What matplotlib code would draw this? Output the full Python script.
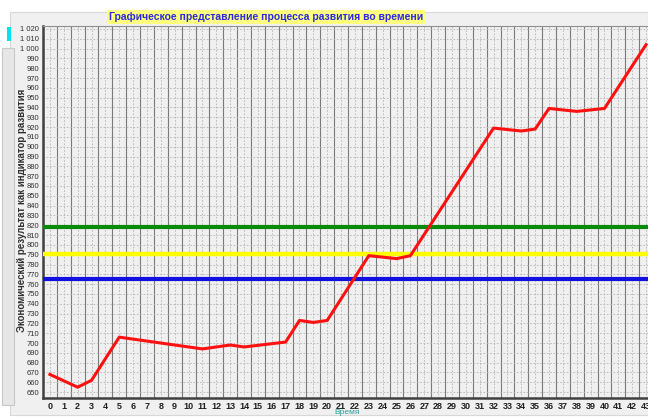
import matplotlib
matplotlib.use("Agg")
import matplotlib.pyplot as plt
import matplotlib.ticker as mtick
from matplotlib.patches import Rectangle

# time steps and the development indicator (red line)
time_steps = [0, 2, 3, 5, 11, 13, 14, 17, 18, 19, 20, 23, 25, 26, 32, 34, 35, 36, 38, 40, 43]
indicator = [668, 655, 662, 706, 694, 698, 696, 701, 723, 721, 723, 789, 786, 789, 919, 916, 918, 939, 936, 939, 1004]

# reference levels
level_green = 818
level_yellow = 791
level_blue = 765

x_ticks = list(range(0, 44))
y_ticks = list(range(650, 1021, 10))

TITLE = "Графическое представление процесса развития во времени"
Y_LABEL = "Экономический результат как индикатор развития"
X_LABEL = "Время"

W, H = 648, 417
BG = "#f0f0f0"
FONT = ["Liberation Sans", "DejaVu Sans"]

plt.rcParams["font.family"] = FONT


def fx(px):
    return px / W


def fy(py):
    return 1 - py / H


fig = plt.figure(figsize=(W / 100, H / 100), dpi=100)
fig.patch.set_facecolor("white")

# window-like background panel
fig.add_artist(Rectangle((fx(10), fy(415)), fx(W - 10), (415 - 12) / H,
                         transform=fig.transFigure, facecolor=BG,
                         edgecolor="#d8d8d8", linewidth=0.8, zorder=-2))
# cyan marker and scroll strip on the left
fig.add_artist(Rectangle((fx(7), fy(41)), fx(4), 14 / H, transform=fig.transFigure,
                         facecolor="#00e5ee", edgecolor="none"))
fig.add_artist(Rectangle((fx(2), fy(405)), fx(12), (405 - 48) / H, transform=fig.transFigure,
                         facecolor="#e6e6e6", edgecolor="#c8c8c8", linewidth=0.8))

ax = fig.add_axes([fx(43), fy(398), 610 / W, (398 - 26) / H])
ax.set_facecolor(BG)

ax.plot(time_steps, indicator, color="#ff1010", linewidth=2.2, zorder=5)
ax.axhline(level_green, color="#0a8a0a", linewidth=3, zorder=4)
ax.axhline(level_yellow, color="#ffff00", linewidth=3.2, zorder=4)
ax.axhline(level_blue, color="#1010e0", linewidth=3, zorder=4)

ax.set_xlim(-0.5, 43.5)
ax.set_ylim(644, 1023)
ax.set_xticks(x_ticks)
ax.set_xticks([x + 0.5 for x in range(-1, 44)], minor=True)
ax.set_yticks(y_ticks)
ax.yaxis.set_major_formatter(mtick.FuncFormatter(lambda v, p: f"{int(v):,}".replace(",", " ")))

ax.grid(which="major", axis="both", color="#b4b4b4", linestyle=(0, (2, 2)), linewidth=0.6)
ax.grid(which="minor", axis="x", color="#7a7a7a", linestyle="-", linewidth=0.8)
ax.set_axisbelow(True)

ax.tick_params(axis="x", which="major", length=0, labelsize=6.5, pad=3, colors="#202020")
ax.tick_params(axis="x", which="minor", length=0)
ax.tick_params(axis="y", length=0, labelsize=5.5, pad=3, colors="#303030")
for lbl in ax.get_xticklabels():
    lbl.set_fontweight("bold")

for side in ["left", "bottom"]:
    ax.spines[side].set_color("#404040")
    ax.spines[side].set_linewidth(1.8)
for side in ["top", "right"]:
    ax.spines[side].set_color("#909090")
    ax.spines[side].set_linewidth(0.8)

fig.text(fx(266), fy(17), TITLE, ha="center", va="center", fontsize=7.5, fontweight="bold",
         color="#2a2ae0",
         bbox=dict(facecolor="#ffff80", edgecolor="none", pad=1.5))
fig.text(fx(22), fy(210), Y_LABEL, rotation=90, ha="center", va="center", fontsize=7,
         fontweight="bold", color="#303030")
fig.text(fx(347), fy(412.5), X_LABEL, ha="center", va="center", fontsize=6, color="#30a0a0")

fig.savefig("out.png", dpi=100, facecolor=fig.get_facecolor())
